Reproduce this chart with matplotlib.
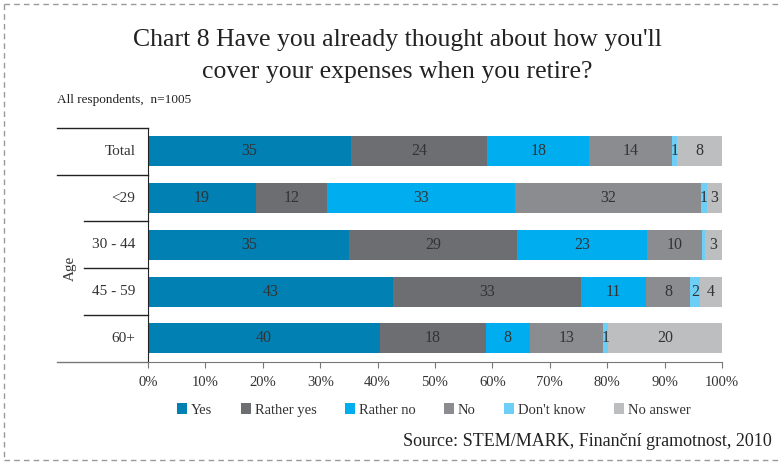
import numpy as np
import matplotlib as mpl
mpl.use('Agg')
from matplotlib import pyplot as plt
from matplotlib.lines import Line2D
from matplotlib.transforms import blended_transform_factory

# share of answers (%) per group, rows top to bottom
groups = ['Total', '<29', '30 - 44', '45 - 59', '60+']
answers = ['Yes', 'Rather yes', 'Rather no', 'No', "Don't know", 'No answer']
yes = [35.3, 18.8, 35.1, 42.7, 40.4]
rather_yes = [23.8, 12.3, 29.2, 32.8, 18.4]
rather_no = [17.8, 32.8, 22.7, 11.3, 7.7]
no = [14.4, 32.4, 9.6, 7.7, 12.7]
dont_know = [0.9, 1.1, 0.4, 1.6, 1.0]
no_answer = [7.8, 2.6, 3.0, 3.9, 19.8]
xticks = [0, 10, 20, 30, 40, 50, 60, 70, 80, 90, 100]

colors = ['#0080b3', '#6d6e71', '#00aeef', '#8b8c8f', '#6dcff6', '#bcbec0']


def main():
    mpl.rc('font', family='serif', serif=['Liberation Serif', 'DejaVu Serif'])

    fig = plt.figure(figsize=(7.8, 4.62), dpi=100)
    W, H = 780, 462
    ax = fig.add_axes([148 / W, 1 - 361.7 / H, 574 / W, 233.7 / H])

    series = [yes, rather_yes, rather_no, no, dont_know, no_answer]
    ypos = np.arange(len(groups))
    left = np.zeros(len(groups))
    for vals, col, name in zip(series, colors, answers):
        vals = np.array(vals)
        ax.barh(ypos, vals, left=left, height=0.64, color=col, label=name)
        for y, l, v in zip(ypos, left, vals):
            if round(v) >= 1:
                ax.text(l + v / 2, y, f"{round(v)}", ha='center', va='center',
                        fontsize=11.5, color='#333333')
        left += vals

    ax.set_xlim(0, 100)
    ax.set_ylim(4.5, -0.5)
    ax.set_xticks(xticks)
    ax.set_xticklabels([f"{t}%" for t in xticks], fontsize=10.5, color='#333333')
    ax.tick_params(axis='x', direction='out', length=4, color='#777777', pad=6)
    ax.set_yticks([])
    for s in ('top', 'right'):
        ax.spines[s].set_visible(False)
    ax.spines['bottom'].set_color('#777777')
    ax.spines['left'].set_color('#222222')

    # category labels and separators left of the bars
    tr = blended_transform_factory(ax.transAxes, ax.transData)
    for y, g in zip(ypos, groups):
        ax.text(-0.022, y, g, transform=tr, ha='right', va='center',
                fontsize=11, color='#333333')
    ax.plot([-0.159, 0], [-0.5, -0.5], transform=tr, clip_on=False, color='#222222', lw=1)
    ax.plot([-0.159, 0], [0.5, 0.5], transform=tr, clip_on=False, color='#222222', lw=1)
    for y in (1.5, 2.5, 3.5):
        ax.plot([-0.111, 0], [y, y], transform=tr, clip_on=False, color='#222222', lw=1)
    ax.plot([-0.159, 0], [4.5, 4.5], transform=tr, clip_on=False, color='#777777', lw=1)
    fig.text(70 / W, 1 - 268 / H, 'Age', rotation=90, ha='center', va='center',
             fontsize=11, color='#333333')

    fig.text(397 / W, 1 - 40 / H, "Chart 8 Have you already thought about how you'll",
             ha='center', va='center', fontsize=18.5, color='#222222')
    fig.text(397 / W, 1 - 72 / H, "cover your expenses when you retire?",
             ha='center', va='center', fontsize=18.5, color='#222222')
    fig.text(57 / W, 1 - 100 / H, "All respondents,  n=1005", ha='left', va='center',
             fontsize=9.5, color='#222222')

    leg = fig.legend(loc='center', bbox_to_anchor=(434 / W, 1 - 410 / H), ncol=6,
                     frameon=False, fontsize=10.5, handlelength=0.7, handleheight=0.7,
                     handletextpad=0.25, columnspacing=1.95)
    for t in leg.get_texts():
        t.set_color('#333333')

    fig.text(772 / W, 1 - 442 / H, "Source: STEM/MARK, Finanční gramotnost, 2010",
             ha='right', va='center', fontsize=13, color='#222222')

    # dashed frame around the figure
    dash = dict(color='#999999', lw=1, ls=(0, (4, 3)), transform=fig.transFigure)
    fig.add_artist(Line2D([4 / W, 1], [1 - 4 / H, 1 - 4 / H], **dash))
    fig.add_artist(Line2D([4 / W, 4 / W], [1 - 4 / H, 1 - 460 / H], **dash))
    fig.add_artist(Line2D([4 / W, 1], [1 - 460 / H, 1 - 460 / H], **dash))

    plt.savefig('out.png', dpi=100)


if __name__ == '__main__':
    main()
